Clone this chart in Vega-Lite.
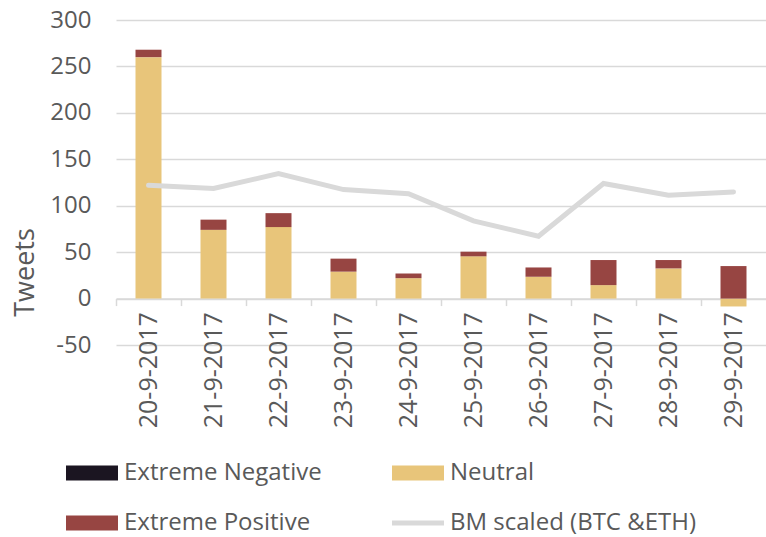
{
  "$schema": "https://vega.github.io/schema/vega-lite/v6.json",
  "width": 650,
  "height": 325,
  "autosize": {"type": "none"},
  "padding": {"left": 116, "top": 20, "right": 0, "bottom": 192},
  "background": "white",
  "config": {
    "font": "Open Sans",
    "view": {"stroke": null},
    "axis": {"labelColor": "#595959", "titleColor": "#595959", "labelFontSize": 24, "titleFontSize": 27, "titleFontWeight": "normal"},
    "legend": {"labelColor": "#595959", "labelFontSize": 24}
  },
  "datasets": {
    "tweets": [
      {"date": "20-9-2017", "series": "Extreme Negative", "tweets": 0},
      {"date": "20-9-2017", "series": "Neutral", "tweets": 260},
      {"date": "20-9-2017", "series": "Extreme Positive", "tweets": 8},
      {"date": "21-9-2017", "series": "Extreme Negative", "tweets": 0},
      {"date": "21-9-2017", "series": "Neutral", "tweets": 74},
      {"date": "21-9-2017", "series": "Extreme Positive", "tweets": 11},
      {"date": "22-9-2017", "series": "Extreme Negative", "tweets": 0},
      {"date": "22-9-2017", "series": "Neutral", "tweets": 77},
      {"date": "22-9-2017", "series": "Extreme Positive", "tweets": 15},
      {"date": "23-9-2017", "series": "Extreme Negative", "tweets": 0},
      {"date": "23-9-2017", "series": "Neutral", "tweets": 29},
      {"date": "23-9-2017", "series": "Extreme Positive", "tweets": 14},
      {"date": "24-9-2017", "series": "Extreme Negative", "tweets": 0},
      {"date": "24-9-2017", "series": "Neutral", "tweets": 22},
      {"date": "24-9-2017", "series": "Extreme Positive", "tweets": 5},
      {"date": "25-9-2017", "series": "Extreme Negative", "tweets": 0},
      {"date": "25-9-2017", "series": "Neutral", "tweets": 45.5},
      {"date": "25-9-2017", "series": "Extreme Positive", "tweets": 5},
      {"date": "26-9-2017", "series": "Extreme Negative", "tweets": 0},
      {"date": "26-9-2017", "series": "Neutral", "tweets": 23.5},
      {"date": "26-9-2017", "series": "Extreme Positive", "tweets": 10},
      {"date": "27-9-2017", "series": "Extreme Negative", "tweets": 0},
      {"date": "27-9-2017", "series": "Neutral", "tweets": 14.5},
      {"date": "27-9-2017", "series": "Extreme Positive", "tweets": 27},
      {"date": "28-9-2017", "series": "Extreme Negative", "tweets": 0},
      {"date": "28-9-2017", "series": "Neutral", "tweets": 32.5},
      {"date": "28-9-2017", "series": "Extreme Positive", "tweets": 9},
      {"date": "29-9-2017", "series": "Extreme Negative", "tweets": 0},
      {"date": "29-9-2017", "series": "Neutral", "tweets": -8.5},
      {"date": "29-9-2017", "series": "Extreme Positive", "tweets": 35}
    ],
    "bm": [
      {"date": "20-9-2017", "bm": 122},
      {"date": "21-9-2017", "bm": 118.5},
      {"date": "22-9-2017", "bm": 134.6},
      {"date": "23-9-2017", "bm": 117.4},
      {"date": "24-9-2017", "bm": 113},
      {"date": "25-9-2017", "bm": 83.7},
      {"date": "26-9-2017", "bm": 67.2},
      {"date": "27-9-2017", "bm": 123.9},
      {"date": "28-9-2017", "bm": 111.3},
      {"date": "29-9-2017", "bm": 114.8}
    ]
  },
  "layer": [
    {
      "data": {"name": "tweets"},
      "mark": {"type": "bar", "width": {"band": 0.4}},
      "encoding": {
        "x": {
          "field": "date", "type": "nominal", "sort": null, "title": null,
          "scale": {"paddingInner": 0, "paddingOuter": 0},
          "axis": {
            "labelAngle": -90, "labelAlign": "right", "labelBaseline": "middle",
            "labelFontSize": 25,
            "offset": -46.4, "bandPosition": 0,
            "tickSize": 7, "tickColor": "#D9D9D9", "tickWidth": 1.5,
            "domainColor": "#D9D9D9", "domainWidth": 1.5,
            "labelPadding": 6, "grid": false
          }
        },
        "y": {
          "field": "tweets", "type": "quantitative", "stack": "zero", "title": "Tweets",
          "scale": {"domain": [-50, 300], "nice": false},
          "axis": {
            "values": [-50, 0, 50, 100, 150, 200, 250, 300],
            "labelExpr": "'' + datum.value",
            "grid": true, "gridColor": "#D9D9D9", "gridWidth": 1.5,
            "domain": false, "ticks": false, "tickSize": 0, "labelPadding": 25,
            "titleX": -83, "titleY": 252, "titleBaseline": "alphabetic", "titleAngle": -90
          }
        },
        "color": {
          "field": "series", "type": "nominal",
          "scale": {
            "domain": ["Extreme Negative", "Neutral", "Extreme Positive", "BM scaled (BTC &ETH)"],
            "range": ["#1B1521", "#E8C57A", "#974542", "#D9D9D9"]
          },
          "legend": {
            "title": null, "orient": "none", "legendX": -50, "legendY": 427,
            "direction": "horizontal",
            "columns": 2, "columnPadding": 70, "rowPadding": 12,
            "symbolSize": 2704, "labelOffset": 6, "labelLimit": 400,
            "encode": {
              "symbols": {
                "update": {
                  "shape": [
                    {"test": "datum.value === 'BM scaled (BTC &ETH)'", "value": "M-1,-0.1H1V0.1H-1Z"},
                    {"value": "M-1,-0.29H1V0.29H-1Z"}
                  ],
                  "fill": {"scale": "color", "field": "value"},
                  "strokeWidth": {"value": 0},
                  "opacity": {"value": 1}
                }
              }
            }
          }
        },
        "order": {"field": "series", "sort": "descending"}
      }
    },
    {
      "data": {"name": "bm"},
      "mark": {"type": "line", "strokeWidth": 5, "strokeCap": "round", "strokeJoin": "miter"},
      "encoding": {
        "x": {"field": "date", "type": "nominal", "sort": null, "title": null},
        "y": {"field": "bm", "type": "quantitative", "title": "Tweets"},
        "color": {"datum": "BM scaled (BTC &ETH)", "type": "nominal"}
      }
    }
  ]
}
